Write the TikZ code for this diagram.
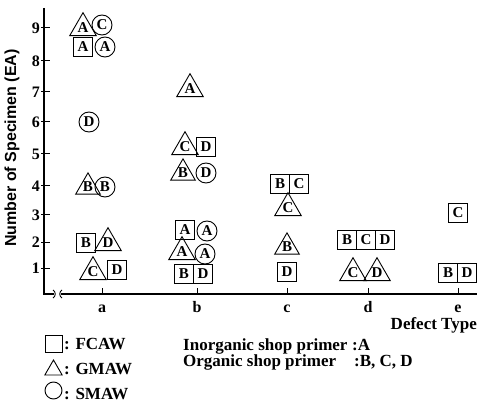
\documentclass[tikz,border=0pt]{standalone}
\usepackage{fontspec}
\setmainfont{Liberation Serif}
\newfontfamily\labsans{Liberation Sans}
\usetikzlibrary{shapes.geometric}
\newcommand\mkfont{\fontsize{15}{15}\selectfont\bfseries}
\newcommand\txtfont{\fontsize{16}{16}\selectfont\bfseries}
\newcommand\legfont{\fontsize{17}{17}\selectfont\bfseries}
\tikzset{
  sq/.style={draw, line width=1pt, minimum size=19pt, inner sep=0pt, font=\mkfont},
  circ/.style={draw, circle, line width=0.9pt, minimum size=20pt, inner sep=0pt, font=\mkfont},
  tri/.style={draw, regular polygon, regular polygon sides=3, line width=0.9pt, minimum size=25pt, inner sep=0pt, font=\mkfont},
  ticklab/.style={font=\txtfont, inner sep=0pt},
  legtext/.style={font=\legfont, anchor=base west, inner sep=0pt},
  axisline/.style={line width=1.2pt},
}
\begin{document}
\begin{tikzpicture}[x=1pt, y=-1pt]
\useasboundingbox (0,0) rectangle (477,409);
% axes
\coordinate (ytop) at (44,8);
\coordinate (orig) at (44,294);
\coordinate (b1) at (54,294);
\coordinate (b2) at (61,294);
\coordinate (xend) at (477,294);
\draw[axisline] (ytop) -- (orig) -- (b1);
\draw[axisline] (b2) -- (xend);
\draw[line width=0.9pt] (53,290) .. controls (56,291.5) and (56,296.5) .. (53,298);
\draw[line width=0.9pt] (62,290) .. controls (59,291.5) and (59,296.5) .. (62,298);
% y ticks
\foreach \v/\yy in {1/268, 2/242, 3/215, 4/186, 5/154, 6/122, 7/92, 8/61, 9/28} {
  \draw[line width=1pt] (41,\yy) -- (50,\yy);
  \node[ticklab, anchor=east] (yl\v) at (40,\yy) {\v};
}
% x ticks
\foreach \n/\xx in {a/102, b/197, c/287, d/368, e/458} {
  \draw[line width=1pt] (\xx,288) -- (\xx,294);
  \node[ticklab, anchor=base] (xl\n) at (\xx,312) {\n};
}
\node[font=\fontsize{17}{17}\selectfont\bfseries, anchor=base east, inner sep=0pt] (xtitle) at (477,329) {Defect Type};
\node[font=\labsans\fontsize{16}{16}\selectfont\bfseries, rotate=90, inner sep=0pt] (ytitle) at (12,148) {Number of Specimen (EA)};
% column a
\node[tri]  (a1) at (83,28) {A};
\node[circ] (a2) at (102,25) {C};
\node[sq]   (a3) at (83,47) {A};
\node[circ] (a4) at (105,47) {A};
\node[circ] (a5) at (89,122) {D};
\node[tri]  (a6) at (88,187) {B};
\node[circ] (a7) at (105,187) {B};
\node[sq]   (a8) at (86,243) {B};
\node[tri]  (a9) at (108,243) {D};
\node[tri]  (a10) at (93,272) {C};
\node[sq]   (a11) at (117,270) {D};
% column b
\node[tri]  (b1n) at (190,89) {A};
\node[tri]  (b2n) at (185,147) {C};
\node[sq]   (b3n) at (206,147) {D};
\node[tri]  (b4n) at (183,173) {B};
\node[circ] (b5n) at (206,173) {D};
\node[sq]   (b6n) at (185,230) {A};
\node[circ] (b7n) at (207,231) {A};
\node[tri]  (b8n) at (182,252) {A};
\node[circ] (b9n) at (205,254) {A};
\node[sq]   (b10n) at (184,274) {B};
\node[sq]   (b11n) at (203,274) {D};
% column c
\node[sq]   (c1) at (280,184) {B};
\node[sq]   (c2) at (299,184) {C};
\node[tri]  (c3) at (288,208) {C};
\node[tri]  (c4) at (287,247) {B};
\node[sq]   (c5) at (287,272) {D};
% column d
\node[sq]   (d1) at (347,240) {B};
\node[sq]   (d2) at (366,240) {C};
\node[sq]   (d3) at (385,240) {D};
\node[tri]  (d4) at (353,273) {C};
\node[tri]  (d5) at (377,273) {D};
% column e
\node[sq]   (e1) at (458,213) {C};
\node[sq]   (e2) at (448,273) {B};
\node[sq]   (e3) at (467,273) {D};
% legend
\node[draw, line width=1pt, minimum size=17pt, inner sep=0pt] (lsq) at (53.5,343.5) {};
\node[draw, regular polygon, regular polygon sides=3, line width=0.9pt, minimum size=20pt, inner sep=0pt] (ltri) at (53.5,370) {};
\node[draw, circle, line width=0.9pt, minimum size=17pt, inner sep=0pt] (lcirc) at (53.5,390.5) {};
\node[legtext] (lt1) at (64,349) {: FCAW};
\node[legtext] (lt2) at (64,374) {: GMAW};
\node[legtext] (lt3) at (64,399) {: SMAW};
\node[legtext] (p1) at (183,350) {Inorganic shop primer};
\node[legtext] (p1v) at (352,350) {:A};
\node[legtext] (p2) at (183,366) {Organic shop primer};
\node[legtext] (p2v) at (354,366) {:B, C, D};
\end{tikzpicture}
\end{document}
